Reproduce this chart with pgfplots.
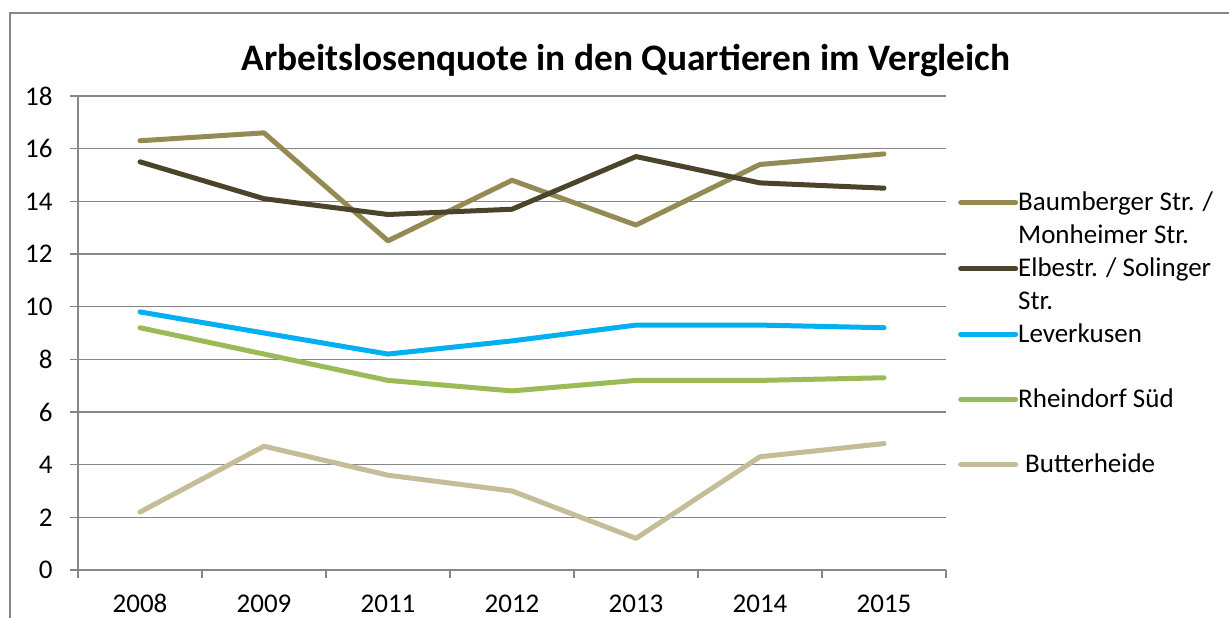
\documentclass[border=0pt]{standalone}
\usepackage{fontspec}
\setmainfont{Carlito}
\usepackage{pgfplots}
\pgfplotsset{compat=1.18}
\definecolor{cBaum}{HTML}{948A54}
\definecolor{cElbe}{HTML}{4A452A}
\definecolor{cLev}{HTML}{00B0F0}
\definecolor{cRhein}{HTML}{9BBB59}
\definecolor{cButt}{HTML}{C4BD97}
\definecolor{cGrid}{HTML}{868686}
\newcommand{\LE}[2]{\vtop{\hbox{\strut #1}\hbox{\strut #2}}}
\newcommand{\DP}{\rule[-42pt]{0pt}{42pt}}
\begin{document}
\begin{tikzpicture}
\path[use as bounding box] (0,0) rectangle (1229pt,618pt);
\begin{axis}[
  at={(78pt,48pt)}, anchor=south west,
  scale only axis, width=868pt, height=474pt,
  xmin=-0.5, xmax=6.5, ymin=0, ymax=18,
  axis lines*=left,
  axis line style={cGrid, line width=1.5pt},
  xtick={0,1,2,3,4,5,6},
  xticklabels={2008,2009,2011,2012,2013,2014,2015},
  minor xtick={-0.5,0.5,1.5,2.5,3.5,4.5,5.5,6.5},
  ytick={0,2,...,18},
  tick align=outside,
  major tick length=8pt, minor tick length=8pt,
  x tick style={draw=none},
  minor x tick style={draw=cGrid, line width=1.5pt},
  y tick style={draw=cGrid, line width=1.5pt},
  ymajorgrids, major grid style={cGrid, line width=1.5pt},
  /pgf/number format/assume math mode=true,
  ticklabel style={font=\fontsize{27}{32}\selectfont},
  xticklabel style={inner sep=1pt, text depth=0pt, yshift=-15.3pt},
  yticklabel style={xshift=-14pt},
  legend cell align=left,
  legend style={draw=none, fill=none, inner sep=0pt, row sep=0pt, column sep=0pt,
    nodes={inner sep=0pt, text depth=, text height=, font=\fontsize{27}{33}\selectfont},
    at={(axis description cs:1.0138,0.807)}, anchor=north west},
  legend image code/.code={\draw[#1] (0pt,18pt) -- (55pt,18pt);},
  every axis plot/.append style={line width=5pt, line join=round, line cap=round},
]
\addplot[cBaum] coordinates {(0,16.3)(1,16.6)(2,12.5)(3,14.8)(4,13.1)(5,15.4)(6,15.8)};
\addlegendentry{\LE{Baumberger Str. /}{Monheimer Str.}\DP}
\addplot[cElbe] coordinates {(0,15.5)(1,14.1)(2,13.5)(3,13.7)(4,15.7)(5,14.7)(6,14.5)};
\addlegendentry{\LE{Elbestr. / Solinger}{Str.}\DP}
\addplot[cLev] coordinates {(0,9.8)(1,9.0)(2,8.2)(3,8.7)(4,9.3)(5,9.3)(6,9.2)};
\addlegendentry{\strut Leverkusen\DP}
\addplot[cRhein] coordinates {(0,9.2)(1,8.2)(2,7.2)(3,6.8)(4,7.2)(5,7.2)(6,7.3)};
\addlegendentry{\strut Rheindorf Süd\DP}
\addplot[cButt] coordinates {(0,2.2)(1,4.7)(2,3.6)(3,3.0)(4,1.2)(5,4.3)(6,4.8)};
\addlegendentry{\hspace{7pt}\strut Butterheide\DP}
\end{axis}
\draw[cGrid, line width=2pt] (10pt,0pt) -- (10pt,605pt) -- (1229pt,605pt);
\node[font=\fontsize{37.4}{44}\selectfont\bfseries] at (626pt,557pt) {Arbeitslosenquote in den Quartieren im Vergleich};
\end{tikzpicture}
\end{document}
